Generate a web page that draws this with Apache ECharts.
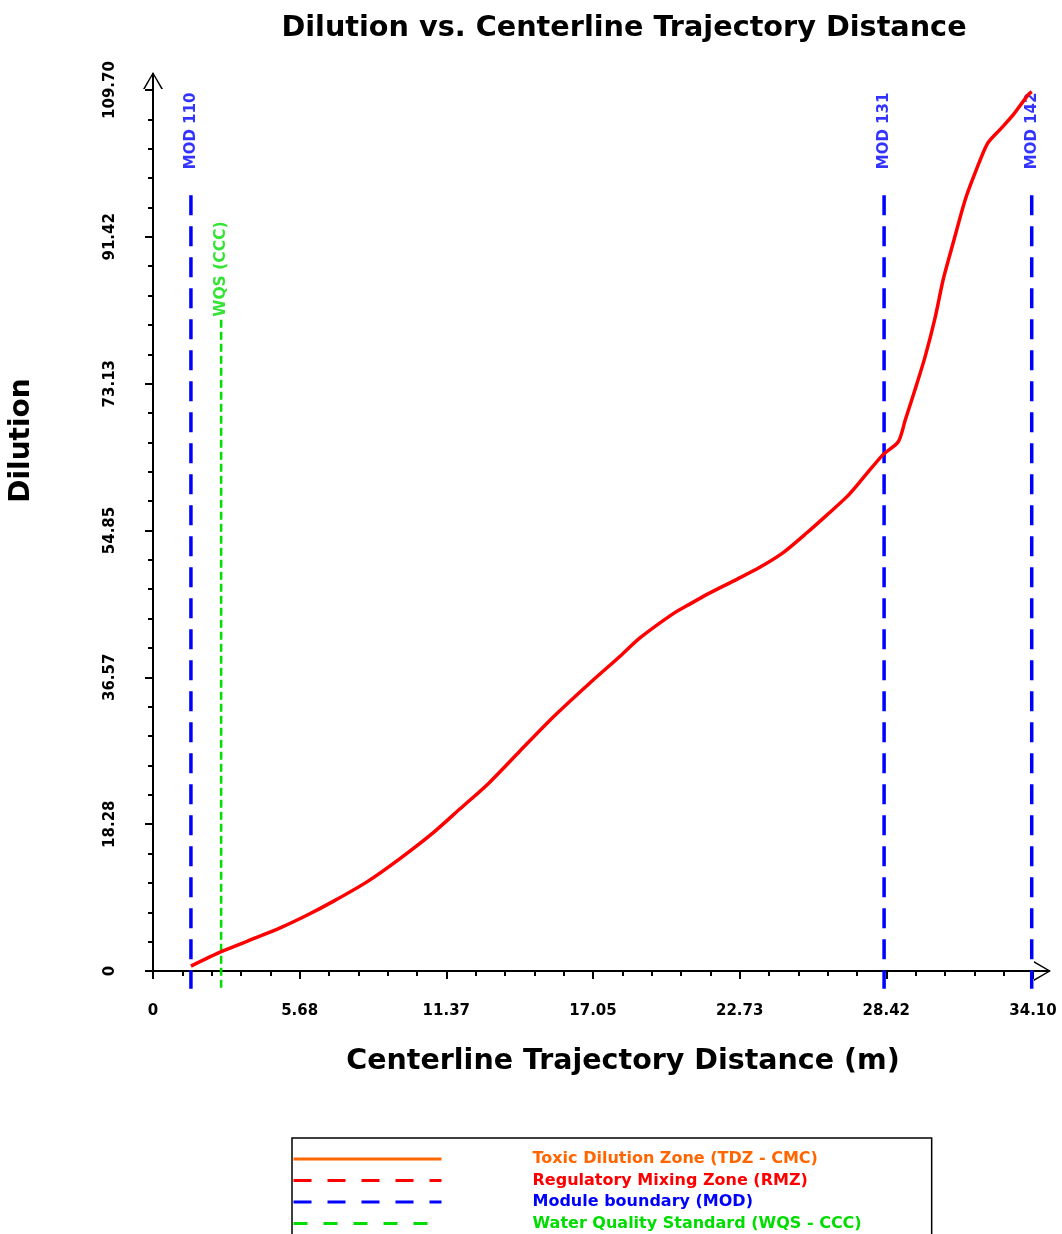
<!DOCTYPE html>
<html>
<head>
<meta charset="utf-8">
<script src="https://cdn.jsdelivr.net/npm/echarts@6/dist/echarts.min.js"></script>
<style>
html,body{margin:0;padding:0;background:#fff;}
#chart{width:1062px;height:1234px;}
</style>
</head>
<body>
<div id="chart"></div>
<script>
// ---- data ----
const xTickLabels = ['0', '5.68', '11.37', '17.05', '22.73', '28.42', '34.10'];
const yTickLabels = ['0', '18.28', '36.57', '54.85', '73.13', '91.42', '109.70'];
const distance = [1.47, 2.64, 3.8, 4.95, 6.0, 7.0, 8.29, 9.57, 10.85, 11.9, 12.95, 14.22, 15.5, 16.94, 18.1, 18.88, 20.16, 20.7, 21.47, 22.64, 23.53, 24.42, 25.35, 26.12, 26.9, 27.52, 28.29, 28.88, 29.15, 29.53, 29.92, 30.31, 30.62, 31.01, 31.47, 31.86, 32.33, 32.83, 33.33, 33.91, 34.05];
const dilution = [0.6, 2.4, 3.9, 5.4, 7.0, 8.7, 11.1, 14.0, 17.2, 20.2, 23.2, 27.4, 31.6, 35.9, 39.2, 41.5, 44.5, 45.5, 46.9, 48.8, 50.3, 52.1, 54.6, 56.8, 59.1, 61.4, 64.3, 65.9, 68.6, 72.4, 76.5, 81.4, 86.1, 90.7, 96.0, 99.4, 103.0, 104.8, 106.6, 109.1, 109.5];
const modX = [1.47, 28.33, 34.05];
const modLabels = ['MOD 110', 'MOD 131', 'MOD 142'];
const modLineTop = 96.6, modLineBottom = -2.2, modLabelY = 104.6;
const wqsX = [2.64];
const wqsLabels = ['WQS (CCC)'];
const wqsLineTop = 81.1, wqsLabelY = 87.4;
const legendNames = ['Toxic Dilution Zone (TDZ - CMC)', 'Regulatory Mixing Zone (RMZ)', 'Module boundary (MOD)', 'Water Quality Standard (WQS - CCC)'];

const XMAX = 34.10, YMAX = 109.70;
const FONT = 'DejaVu Sans';
const BLUE = '#0000ff', GREEN = '#00dd00', RED = '#ff0000', ORANGE = '#ff6600';

const arrowPath = 'path://M10,0 L20,17 L18.2,17 L10,2.6 L1.8,17 L0,17 Z M9,1 L11,1 L11,36 L9,36 Z';

const chart = echarts.init(document.getElementById('chart'));

const series = [];
series.push({
  name: 'Dilution', type: 'line', data: distance.map((d, i) => [d, dilution[i]]),
  symbol: 'none', smooth: 0.25, lineStyle: { color: RED, width: 3.5 }, z: 5
});
series.push({ name: legendNames[0], type: 'line', data: [], symbol: 'none', lineStyle: { color: ORANGE, width: 3 }, itemStyle: { color: ORANGE } });
series.push({ name: legendNames[1], type: 'line', data: [], symbol: 'none', lineStyle: { color: RED, width: 3, type: [18, 16] }, itemStyle: { color: RED } });
modX.forEach((x) => {
  series.push({ name: legendNames[2], type: 'line', data: [[x, modLineTop], [x, modLineBottom]], clip: false,
    symbol: 'none', lineStyle: { color: BLUE, width: 3.5, type: [20, 11] }, itemStyle: { color: BLUE }, z: 3 });
});
wqsX.forEach((x) => {
  series.push({ name: legendNames[3], type: 'line', data: [[x, wqsLineTop], [x, modLineBottom]], clip: false,
    symbol: 'none', lineStyle: { color: GREEN, width: 2.5, type: [8, 4] }, itemStyle: { color: GREEN }, z: 3 });
});
series.push({
  name: 'modLabels', type: 'scatter', symbolSize: 0, silent: true,
  data: modX.map((x, i) => ({ value: [x, modLabelY], name: modLabels[i] })),
  label: { show: true, position: 'inside', rotate: 90, formatter: p => p.name, color: BLUE, fontFamily: FONT, fontWeight: 'bold', fontSize: 15 }
});
series.push({
  name: 'wqsLabels', type: 'scatter', symbolSize: 0, silent: true,
  data: wqsX.map((x, i) => ({ value: [x, wqsLabelY], name: wqsLabels[i] })),
  label: { show: true, position: 'inside', rotate: 90, formatter: p => p.name, color: GREEN, fontFamily: FONT, fontWeight: 'bold', fontSize: 15.5 }
});

const option = {
  animation: false,
  backgroundColor: '#fff',
  title: {
    text: 'Dilution vs. Centerline Trajectory Distance',
    left: 619, top: 9, textAlign: 'center',
    textStyle: { fontFamily: FONT, fontWeight: 'bold', fontSize: 28.7, color: '#000' }
  },
  grid: { left: 153, right: 29, top: 90, bottom: 263, containLabel: false },
  xAxis: {
    type: 'value', min: 0, max: XMAX, interval: XMAX / 6,
    name: 'Centerline Trajectory Distance (m)', nameLocation: 'middle', nameGap: 76,
    nameTextStyle: { fontFamily: FONT, fontWeight: 'bold', fontSize: 28.5, color: '#000', padding: [0, 0, 0, 60] },
    axisLine: { show: true, onZero: false, lineStyle: { color: '#000', width: 2 }, symbol: ['none', arrowPath], symbolSize: [20, 36] },
    axisTick: { show: true, length: 8, lineStyle: { color: '#000', width: 2 } },
    minorTick: { show: true, splitNumber: 5, length: 5, lineStyle: { color: '#000', width: 2 } },
    splitLine: { show: false },
    axisLabel: { margin: 33, fontFamily: FONT, fontWeight: 'bold', fontSize: 15, color: '#000', showMaxLabel: true, showMinLabel: true,
      formatter: (v, i) => xTickLabels[i] }
  },
  yAxis: {
    type: 'value', min: 0, max: YMAX, interval: YMAX / 6,
    name: 'Dilution', nameLocation: 'middle', nameGap: 117, nameRotate: 90,
    nameTextStyle: { fontFamily: FONT, fontWeight: 'bold', fontSize: 28, color: '#000', padding: [0, 0, 0, 180] },
    axisLine: { show: true, onZero: false, lineStyle: { color: '#000', width: 2 }, symbol: ['none', arrowPath], symbolSize: [20, 36] },
    axisTick: { show: true, length: 8, lineStyle: { color: '#000', width: 2 } },
    minorTick: { show: true, splitNumber: 5, length: 5, lineStyle: { color: '#000', width: 2 } },
    splitLine: { show: false },
    axisLabel: { margin: 35, rotate: 90, fontFamily: FONT, fontWeight: 'bold', fontSize: 15, color: '#000', showMaxLabel: true, showMinLabel: true,
      formatter: (v, i) => yTickLabels[i] }
  },
  legend: {
    orient: 'vertical', left: 292, top: 1138, height: 200,
    padding: [12, 70, 40, 0],
    borderColor: '#000', borderWidth: 1.5,
    itemWidth: 148, itemHeight: 14, itemGap: 3.5,
    selectedMode: false,
    itemStyle: { opacity: 0 },
    lineStyle: { width: 3 },
    textStyle: { fontFamily: FONT, fontWeight: 'bold', fontSize: 16, lineHeight: 18, padding: [0, 0, 0, 86] },
    data: [
      { name: legendNames[0], textStyle: { color: ORANGE } },
      { name: legendNames[1], textStyle: { color: RED } },
      { name: legendNames[2], textStyle: { color: BLUE }, lineStyle: { type: [18, 16], width: 3 } },
      { name: legendNames[3], textStyle: { color: GREEN }, lineStyle: { type: [14, 16], width: 3 } }
    ]
  },
  series: series
};
chart.setOption(option);
</script>
</body>
</html>
